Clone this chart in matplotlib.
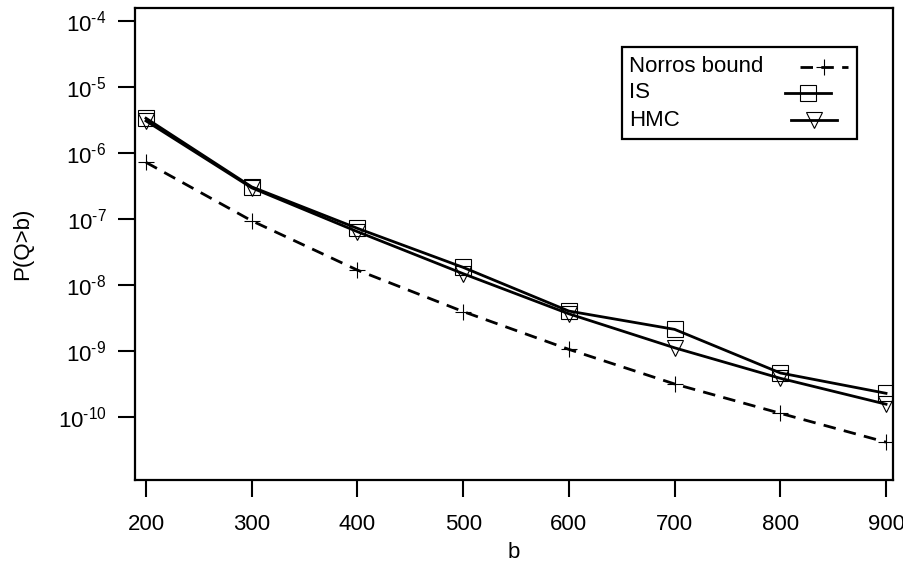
import matplotlib
matplotlib.use("Agg")
import matplotlib.pyplot as plt
from matplotlib.lines import Line2D
from matplotlib.patches import Rectangle
from matplotlib.ticker import FixedLocator, FixedFormatter, NullLocator

plt.rcParams['font.family'] = ['Liberation Sans', 'DejaVu Sans']
plt.rcParams['mathtext.fontset'] = 'custom'
plt.rcParams['mathtext.rm'] = 'Liberation Sans'
plt.rcParams['mathtext.it'] = 'Liberation Sans'

# ---- data ----
b_values = [200, 300, 400, 500, 600, 700, 800, 900]
norros = [7.3e-7, 9.5e-8, 1.7e-8, 4.0e-9, 1.07e-9, 3.2e-10, 1.15e-10, 4.2e-11]
is_est = [3.4e-6, 3.1e-7, 7.3e-8, 1.87e-8, 4.07e-9, 2.15e-9, 4.7e-10, 2.31e-10]
hmc_est = [3.1e-6, 3.0e-7, 6.5e-8, 1.5e-8, 3.7e-9, 1.13e-9, 3.9e-10, 1.58e-10]
series_names = ["Norros bound", "IS", "HMC"]
x_ticks = [200, 300, 400, 500, 600, 700, 800, 900]
y_exponents = [-4, -5, -6, -7, -8, -9, -10]
x_label = "b"
y_label = "P(Q>b)"

FS = 16
W, H = 904, 564
fig = plt.figure(figsize=(W / 100, H / 100), dpi=100)
ax = fig.add_axes([135 / W, 1 - 480 / H, (893 - 135) / W, (480 - 8) / H])

lw = 2.0
dash = (0, (4.5, 3.0))
ms = 11
mew = 0.8

ax.plot(b_values, norros, color='black', lw=lw, linestyle=dash, marker='+',
        markersize=ms + 1, markeredgewidth=mew)
ax.plot(b_values, is_est, color='black', lw=lw, marker='s', markersize=ms,
        fillstyle='none', markeredgewidth=mew)
ax.plot(b_values, hmc_est, color='black', lw=lw, marker='v', markersize=ms,
        fillstyle='none', markeredgewidth=mew)

ax.set_yscale('log')
ax.set_xlim(189.6, 906.6)
ax.set_ylim(10 ** -10.95, 10 ** -3.798)

ax.xaxis.set_major_locator(FixedLocator(x_ticks))
ax.xaxis.set_major_formatter(FixedFormatter([str(v) for v in x_ticks]))
ax.yaxis.set_major_locator(FixedLocator([10.0 ** e for e in y_exponents]))
ax.yaxis.set_major_formatter(FixedFormatter(
    ['$\\mathregular{10^{\u2010%d}}$' % (-e) for e in y_exponents]))
ax.yaxis.set_minor_locator(NullLocator())
ax.xaxis.set_minor_locator(NullLocator())

ax.tick_params(axis='both', which='major', direction='out', length=12.5,
               width=1.5, labelsize=FS, color='black')
ax.tick_params(axis='x', pad=12)
ax.tick_params(axis='y', pad=8)
for sp in ax.spines.values():
    sp.set_linewidth(1.6)

ax.set_xlabel(x_label, fontsize=FS, labelpad=5)
ax.set_ylabel(y_label, fontsize=FS, labelpad=18)

# ---- legend drawn manually (R style) ----
def fx(px):
    return px / W

def fy(py):
    return 1 - py / H

tf = fig.transFigure
fig.add_artist(Rectangle((fx(622), fy(139)), fx(857) - fx(622), fy(47) - fy(139),
                         transform=tf, fill=False, edgecolor='black', lw=1.6))
rows_y = [67, 93, 120]
line_x = [(800, 848), (785, 831), (791, 837)]
styles = [dict(linestyle=dash, marker='+', markersize=ms + 1),
          dict(linestyle='-', marker='s', markersize=ms, fillstyle='none'),
          dict(linestyle='-', marker='v', markersize=ms, fillstyle='none')]
for name, yy, (x0, x1), st in zip(series_names, rows_y, line_x, styles):
    fig.text(fx(629), fy(yy), name, fontsize=FS, ha='left', va='center')
    fig.add_artist(Line2D([fx(x0), fx(x1)], [fy(yy), fy(yy)], transform=tf,
                          color='black', lw=lw, linestyle=st['linestyle']))
    fig.add_artist(Line2D([fx((x0 + x1) / 2)], [fy(yy)], transform=tf,
                          color='black', linestyle='none', marker=st['marker'],
                          markersize=st['markersize'], markeredgewidth=mew,
                          fillstyle=st.get('fillstyle', 'full')))

fig.savefig('out.png', dpi=100)
